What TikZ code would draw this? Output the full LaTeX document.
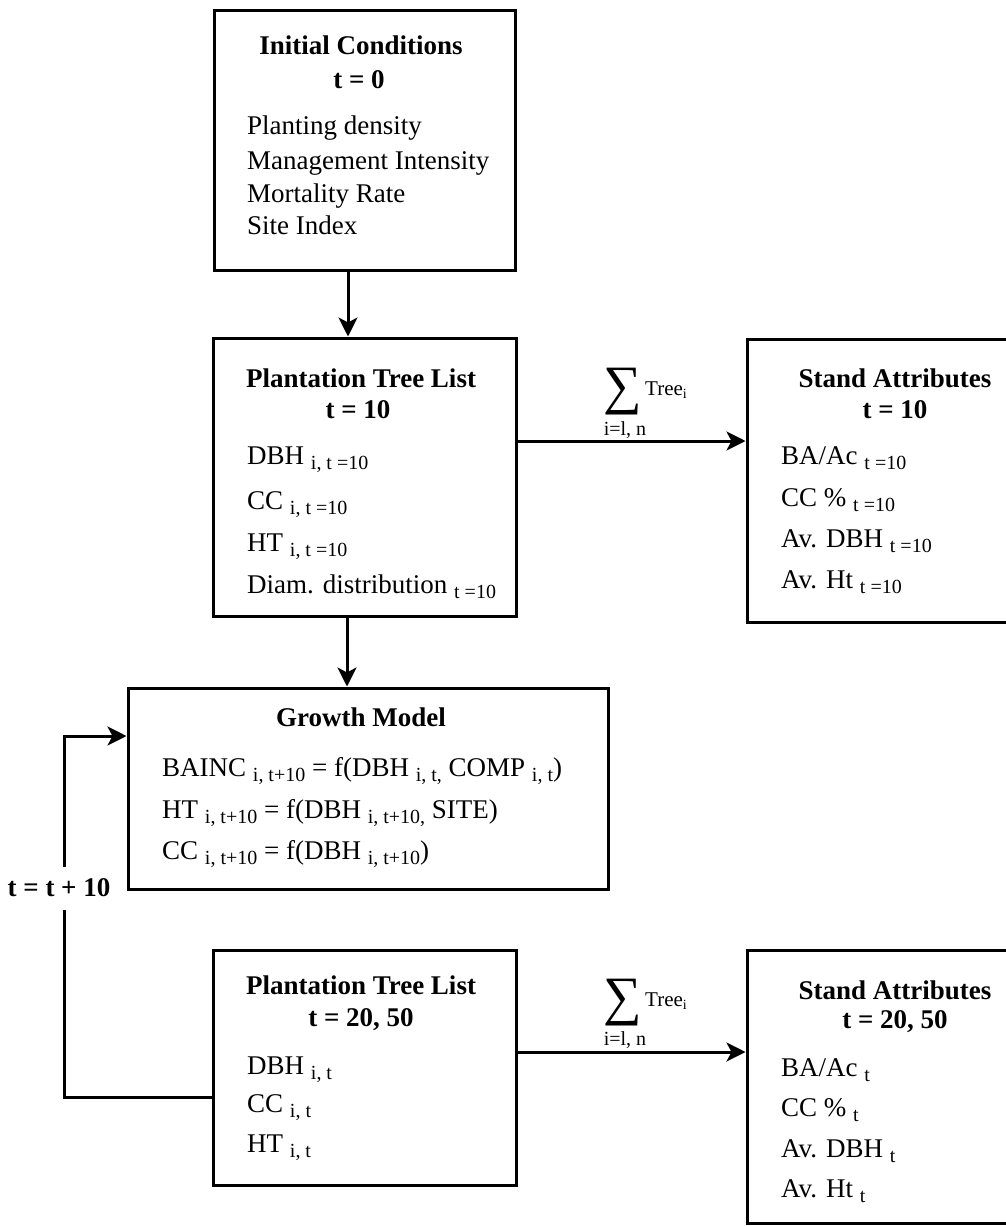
\documentclass[tikz,border=0pt]{standalone}
\usepackage{fontspec}
\setmainfont{Liberation Serif}
\usetikzlibrary{arrows.meta}
\newcommand{\sbs}[1]{\raisebox{-5pt}{\fontsize{20}{20}\selectfont #1}}
\tikzset{
  boxn/.style={draw, line width=3pt, inner sep=0pt},
  arr/.style={line width=3pt, -{Stealth[length=19pt,width=19pt,inset=5pt]}},
  conn/.style={line width=3pt},
  ttl/.style={font=\fontsize{27}{30}\selectfont\bfseries, inner sep=0pt},
  itm/.style={anchor=base west, font=\fontsize{27}{30}\selectfont, inner sep=0pt},
  sigma/.style={font=\fontsize{54}{54}\selectfont, inner sep=0pt},
  sumtxt/.style={font=\fontsize{21}{21}\selectfont, inner sep=0pt},
}
\begin{document}
\begin{tikzpicture}[x=1pt,y=-1pt]
\useasboundingbox (0,0) rectangle (1006,1226);
\fill[white] (0,0) rectangle (1006,1226);
\clip (0,0) rectangle (1006,1226);

% boxes
\node[boxn, minimum width=301pt, minimum height=260pt] (ic) at (364.5,140) {};
\node[boxn, minimum width=303pt, minimum height=278pt] (ptl1) at (364.5,477) {};
\node[boxn, minimum width=296pt, minimum height=283pt] (sa1) at (895,480.5) {};
\node[boxn, minimum width=480pt, minimum height=201pt] (gm) at (368,788.5) {};
\node[boxn, minimum width=303pt, minimum height=235pt] (ptl2) at (364.5,1067.5) {};
\node[boxn, minimum width=296pt, minimum height=273pt] (sa2) at (895,1086.5) {};

% Initial conditions
\node[ttl] (ict) at (361,45) {Initial Conditions};
\node[ttl] (ict2) at (359,80) {t = 0};
\node[itm] (ic1) at (247,134) {Planting density};
\node[itm] (ic2) at (247,169) {Management Intensity};
\node[itm] (ic3) at (247,202) {Mortality Rate};
\node[itm] (ic4) at (247,234) {Site Index};

% Plantation tree list t=10
\node[ttl] (p1t) at (361,378) {Plantation Tree List};
\node[ttl] (p1t2) at (358,410) {t = 10};
\node[itm] (p11) at (247,464) {DBH \sbs{i, t =10}};
\node[itm] (p12) at (247,509) {CC \sbs{i, t =10}};
\node[itm] (p13) at (247,551) {HT \sbs{i, t =10}};
\node[itm] (p14) at (247,593) {Diam. distribution \sbs{t =10}};

% Stand attributes t=10
\node[ttl] (s1t) at (895,378) {Stand Attributes};
\node[ttl] (s1t2) at (895,410) {t = 10};
\node[itm] (s11) at (781,464) {BA/Ac \sbs{t =10}};
\node[itm] (s12) at (781,506) {CC \% \sbs{t =10}};
\node[itm] (s13) at (781,547) {Av. DBH \sbs{t =10}};
\node[itm] (s14) at (781,588) {Av. Ht \sbs{t =10}};

% Growth model
\node[ttl] (gmt) at (361,717) {Growth Model};
\node[itm] (g1) at (162,776) {BAINC \sbs{i, t+10} = f(DBH \sbs{i, t,} COMP \sbs{i, t})};
\node[itm] (g2) at (162,818) {HT \sbs{i, t+10} = f(DBH \sbs{i, t+10,} SITE)};
\node[itm] (g3) at (162,859) {CC \sbs{i, t+10} = f(DBH \sbs{i, t+10})};

% Plantation tree list t=20,50
\node[ttl] (p2t) at (361,985) {Plantation Tree List};
\node[ttl] (p2t2) at (361,1020) {t = 20, 50};
\node[itm] (p21) at (247,1074) {DBH \sbs{i, t}};
\node[itm] (p22) at (247,1112) {CC \sbs{i, t}};
\node[itm] (p23) at (247,1152) {HT \sbs{i, t}};

% Stand attributes t=20,50
\node[ttl] (s2t) at (895,990) {Stand Attributes};
\node[ttl] (s2t2) at (895,1022) {t = 20, 50};
\node[itm] (s21) at (781,1076) {BA/Ac \sbs{t}};
\node[itm] (s22) at (781,1116) {CC \% \sbs{t}};
\node[itm] (s23) at (781,1157) {Av. DBH \sbs{t}};
\node[itm] (s24) at (781,1197) {Av. Ht \sbs{t}};

% arrows
\draw[arr] ([xshift=-16.5pt]ic.south) -- ([xshift=-16.5pt]ic.south |- ptl1.north);
\draw[arr] ([xshift=-17.5pt]ptl1.south) -- ([xshift=-17.5pt]ptl1.south |- gm.north);
\draw[arr] ([yshift=36pt]ptl1.east) -- ([yshift=36pt]ptl1.east -| sa1.west);
\draw[arr] ([yshift=15.5pt]ptl2.east) -- ([yshift=15.5pt]ptl2.east -| sa2.west);

% feedback loop
\node[ttl] (tl) at (59,888) {t = t + 10};
\coordinate (la) at (64,867);
\coordinate (lb) at (64,910);
\draw[conn] ([yshift=-29.5pt]ptl2.west) -| (lb);
\draw[arr] (la) |- ([yshift=52.5pt]gm.west);

% sum labels
\node[sigma] (sg1) at (623,392) {∑};
\node[sumtxt, anchor=west] (tr1) at (645,390) {Tree\raisebox{-3pt}{\fontsize{14}{14}\selectfont i}};
\node[sumtxt, font=\fontsize{20}{20}\selectfont] (lm1) at (625,430) {i=l, n};

\node[sigma] (sg2) at (623,1003) {∑};
\node[sumtxt, anchor=west] (tr2) at (645,1001) {Tree\raisebox{-3pt}{\fontsize{14}{14}\selectfont i}};
\node[sumtxt, font=\fontsize{20}{20}\selectfont] (lm2) at (625,1040) {i=l, n};
\end{tikzpicture}
\end{document}
